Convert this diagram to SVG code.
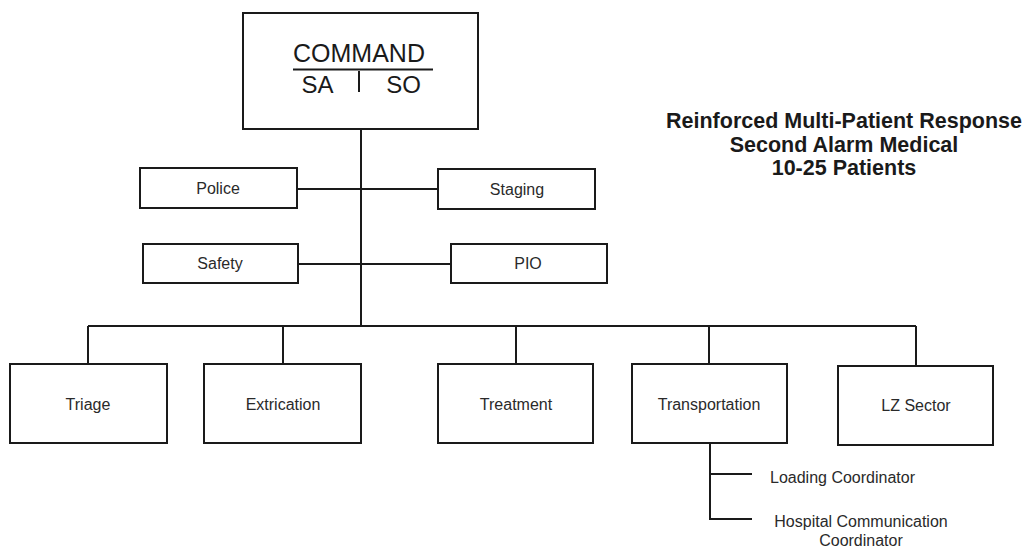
<svg xmlns="http://www.w3.org/2000/svg" width="1027" height="550" viewBox="0 0 1027 550">
<style>
.box{fill:#fff;stroke:#1a1a1a;stroke-width:2}
.ln{fill:none;stroke:#1a1a1a;stroke-width:2}
.lbl{font-family:"Liberation Sans",Arial,sans-serif;font-size:16px;fill:#2a2a2a;text-anchor:middle}
.big{font-family:"Liberation Sans",Arial,sans-serif;fill:#1a1a1a;text-anchor:middle}
.title{font-family:"Liberation Sans",Arial,sans-serif;font-size:21.5px;font-weight:bold;fill:#1a1a1a;text-anchor:middle}
</style>
<rect width="1027" height="550" fill="#fff"/>
<g id="connectors">
<path class="ln" d="M361 129V326"/>
<path class="ln" d="M297 189H438"/>
<path class="ln" d="M298 264H451"/>
<path class="ln" d="M88 326H916"/>
<path class="ln" d="M88 326V364M283 326V364M516 326V364M709 326V364M916 326V366"/>
<path class="ln" d="M710 443V519H752M710 474H752"/>
</g>
<g id="command">
<rect class="box" x="243" y="13" width="235" height="116"/>
<text class="big" x="359" y="62" font-size="25">COMMAND</text>
<path class="ln" d="M293 69.5H433M359 71V92"/>
<text class="big" x="317.5" y="93" font-size="24">SA</text>
<text class="big" x="403.5" y="93" font-size="24">SO</text>
</g>
<g id="police"><rect class="box" x="140" y="168" width="157" height="40"/><text class="lbl" x="218" y="193.5">Police</text></g>
<g id="staging"><rect class="box" x="438" y="169" width="157" height="40"/><text class="lbl" x="517" y="194.5">Staging</text></g>
<g id="safety"><rect class="box" x="143" y="244" width="155" height="39"/><text class="lbl" x="220" y="269">Safety</text></g>
<g id="pio"><rect class="box" x="451" y="244" width="156" height="39"/><text class="lbl" x="528" y="269">PIO</text></g>
<g id="triage"><rect class="box" x="10" y="364" width="157" height="79"/><text class="lbl" x="88" y="409.5">Triage</text></g>
<g id="extrication"><rect class="box" x="204" y="364" width="157" height="79"/><text class="lbl" x="283" y="409.5">Extrication</text></g>
<g id="treatment"><rect class="box" x="438" y="364" width="155" height="79"/><text class="lbl" x="516" y="409.5">Treatment</text></g>
<g id="transportation"><rect class="box" x="632" y="364" width="155" height="79"/><text class="lbl" x="709" y="409.5">Transportation</text></g>
<g id="lzsector"><rect class="box" x="838" y="366" width="155" height="79"/><text class="lbl" x="916" y="411">LZ Sector</text></g>
<g id="loading"><text class="lbl" x="770" y="483" style="text-anchor:start">Loading Coordinator</text></g>
<g id="hospital"><text class="lbl" x="861" y="527">Hospital Communication</text><text class="lbl" x="861" y="546">Coordinator</text></g>
<g id="title">
<text class="title" x="844" y="128">Reinforced Multi-Patient Response</text>
<text class="title" x="844" y="152">Second Alarm Medical</text>
<text class="title" x="844" y="175">10-25 Patients</text>
</g>
</svg>
